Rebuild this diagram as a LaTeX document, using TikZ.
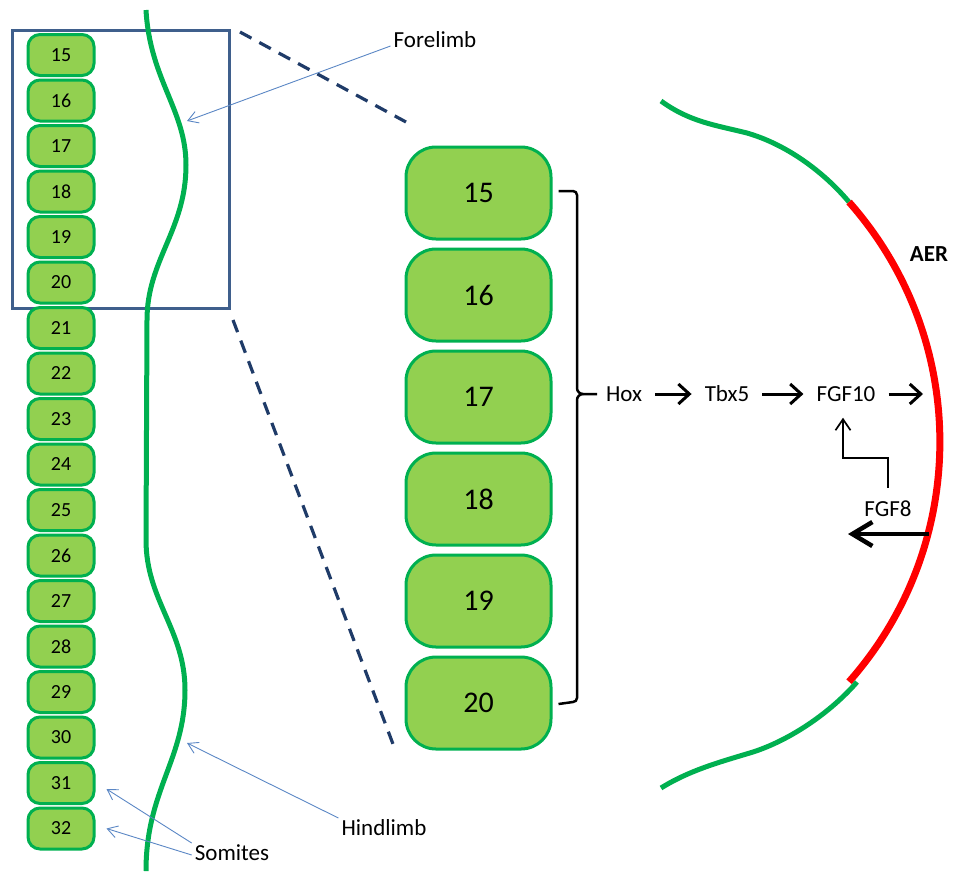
\documentclass[tikz,border=0pt]{standalone}
\usepackage{fontspec}
\setmainfont{Carlito}
\usetikzlibrary{arrows.meta}
\definecolor{somfill}{HTML}{92D050}
\definecolor{somedge}{HTML}{00B050}
\definecolor{boxblue}{HTML}{3F5F8C}
\definecolor{dashblue}{HTML}{1F3B68}
\definecolor{ptrblue}{HTML}{5B87C5}
\tikzset{
  somite/.style={draw=somedge,fill=somfill,line width=3pt,rounded corners=12pt,
    minimum width=66pt,minimum height=41pt,inner sep=0pt,font=\fontsize{20}{24}\selectfont},
  bigsomite/.style={somite,rounded corners=30pt,minimum width=145pt,minimum height=92pt,
    font=\fontsize{30}{36}\selectfont},
  txt/.style={font=\fontsize{23}{28}\selectfont,inner sep=3pt},
  gene/.style={txt,inner xsep=13pt},
  pointer/.style={draw=ptrblue,line width=0.9pt,-{Straight Barb[length=10pt,width=12pt]}},
  flow/.style={line width=3pt,-{Straight Barb[length=11pt,width=20pt]}},
  bracket/.style={line width=2.5pt,line join=round},
}
\begin{document}
\begin{tikzpicture}[x=1pt,y=-1pt]
    \useasboundingbox (0,0) rectangle (956,871);
    % zoom box
    \draw[boxblue,line width=3pt] (12,30) rectangle (229,308);
    \draw[dashblue,line width=3.2pt,dash pattern=on 13pt off 9pt] (240,32) -- (406,122);
    \draw[dashblue,line width=3.2pt,dash pattern=on 13pt off 9pt] (233,320) -- (396,752);
    % neural tube
    \draw[somedge,line width=5pt] (146,10) .. controls (150,80) and (186,110) .. (186,165)
      .. controls (186,230) and (147,260) .. (147,320) -- (146,540)
      .. controls (146,600) and (185,630) .. (185,690)
      .. controls (185,760) and (146,790) .. (146,871);
    % somites
    \foreach \i in {15,...,32}
      \node[somite] (s\i) at (61,{55+45.5*(\i-15)}) {\i};
    \foreach \i in {15,...,20}
      \node[bigsomite] (b\i) at (478.5,{193+102*(\i-15)}) {\i};
    % brace
    \coordinate (brtip) at (597,394);
    \draw[bracket] ([xshift=6pt,yshift=2pt]b15.east) -- (573,191) to[out=0,in=90] (577,195)
      -- (577,388) to[out=-90,in=180] (583,394) -- (brtip);
    \draw[bracket] ([xshift=6pt,yshift=-1pt]b20.east) -- (573,702) to[out=0,in=-90] (577,698)
      -- (577,400) to[out=90,in=180] (583,394);
    % labels
    \node[txt] (fore) at (435,40) {Forelimb};
    \node[txt] (hind) at (384,828) {Hindlimb};
    \node[txt] (som) at (232,853) {Somites};
    \coordinate (forebud) at (187,121);
    \coordinate (hindbud) at (187,743);
    \draw[pointer] ([yshift=-6pt]fore.west) -- (forebud);
    \draw[pointer] ([yshift=10pt]hind.west) -- (hindbud);
    \draw[pointer] ([yshift=10pt]som.west) -- ([xshift=11pt,yshift=-6pt]s31.east);
    \draw[pointer] ([yshift=-2pt]som.west) -- ([xshift=11pt]s32.east);
    % limb bud
    \draw[somedge,line width=5pt] (661,101) .. controls (690,122) and (715,125) .. (747,133)
      .. controls (785,144) and (822,170) .. (849,202);
    \draw[red,line width=7pt] (849,202) arc[start angle=41.5,end angle=-41.5,radius=362pt];
    \draw[somedge,line width=5pt] (857,682) .. controls (830,713) and (790,740) .. (753,752)
      .. controls (720,762) and (690,770) .. (661,788);
    \node[txt,font=\fontsize{23}{28}\selectfont\bfseries] (aer) at (929,254) {AER};
    % signalling
    \node[gene] (hox) at (624,394) {Hox};
    \node[gene] (tbx) at (727,394) {Tbx5};
    \node[gene] (fgf10) at (846,394) {FGF10};
    \node[txt] (fgf8) at (888,509) {FGF8};
    \coordinate (toaer) at (923,394);
    \coordinate (fromaer) at (929,534);
    \coordinate (tomes) at (848,534);
    \draw[flow] (hox) -- (tbx);
    \draw[flow] (tbx) -- (fgf10);
    \draw[flow] (fgf10) -- (toaer);
    \draw[line width=1.7pt,-{Straight Barb[length=11pt,width=15pt]}]
      ([yshift=10pt]fgf8.north) -- ++(0,-30) -| ([xshift=-3pt,yshift=-13pt]fgf10.south);
    \draw[line width=4.5pt,-{Straight Barb[length=20pt,width=24pt]}] (fromaer) -- (tomes);
  \end{tikzpicture}
\end{document}
